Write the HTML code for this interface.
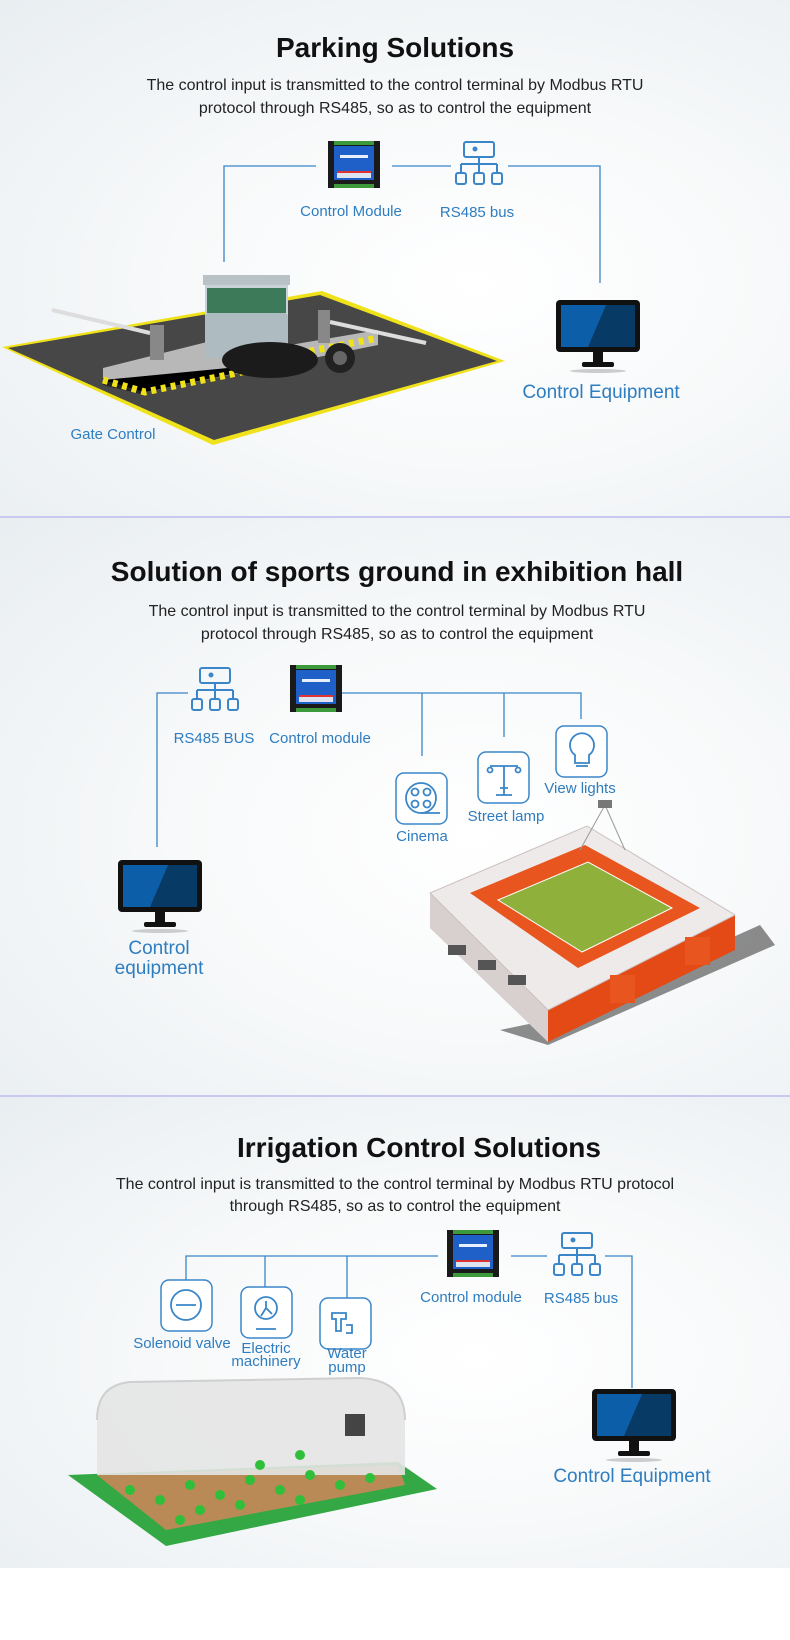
<!DOCTYPE html>
<html><head><meta charset="utf-8"><style>
html,body{margin:0;padding:0;background:#fff;}
body{width:790px;height:1640px;position:relative;overflow:hidden;font-family:"Liberation Sans",sans-serif;}
.sec{position:absolute;left:0;width:790px;background:radial-gradient(ellipse at 60% 55%,#ffffff 0%,#f7f9fa 45%,#e9eef1 100%);}
.div{position:absolute;left:0;width:790px;height:2px;background:#c9c9ef;}
svg{position:absolute;left:0;top:0;}
</style></head><body>
<div class="sec" style="top:0;height:516px"></div>
<div class="div" style="top:516px"></div>
<div class="sec" style="top:518px;height:577px"></div>
<div class="div" style="top:1095px"></div>
<div class="sec" style="top:1097px;height:471px"></div>
<svg width="790" height="1640" viewBox="0 0 790 1640">
<defs>
<g id="mod">
<rect x="0" y="0" width="52" height="47" fill="#1a1a1a"/>
<rect x="6" y="0" width="40" height="4" fill="#3c9a3c"/>
<rect x="6" y="43" width="40" height="4" fill="#3c9a3c"/>
<rect x="6" y="5" width="40" height="34" fill="#1f5fc8"/>
<rect x="12" y="14" width="28" height="3" fill="#e8eefc"/>
<rect x="9" y="32" width="34" height="5" fill="#dde4f0"/>
<rect x="9" y="30" width="34" height="2" fill="#d33"/>
</g>
<g id="bus" fill="none" stroke="#3a86c8" stroke-width="2">
<rect x="9" y="1" width="30" height="15" rx="2"/>
<circle cx="20" cy="8" r="1.5" fill="#3a86c8"/>
<path d="M24 16v7M6 23h36M6 23v9M24 23v9M42 23v9"/>
<rect x="1" y="32" width="10" height="11" rx="2"/>
<rect x="19" y="32" width="10" height="11" rx="2"/>
<rect x="37" y="32" width="10" height="11" rx="2"/>
</g>
<g id="mon">
<rect x="0" y="0" width="84" height="52" rx="4" fill="#111"/>
<rect x="5" y="5" width="74" height="42" fill="#0d5ea8"/>
<polygon points="50,5 79,5 79,47 32,47" fill="#083a66"/>
<rect x="37" y="52" width="10" height="12" fill="#111"/>
<rect x="26" y="62" width="32" height="5" rx="2" fill="#111"/>
<ellipse cx="42" cy="71" rx="28" ry="2" fill="#ccc"/>
</g>
<g id="ibox"><rect x="0" y="0" width="51" height="51" rx="8" fill="#fff" stroke="#3a86c8" stroke-width="1.5"/></g>
</defs>

<!-- SECTION 1 -->
<text x="395" y="57" font-size="28" font-weight="bold" text-anchor="middle" fill="#111">Parking Solutions</text>
<text x="395" y="90" font-size="16" text-anchor="middle" fill="#222">The control input is transmitted to the control terminal by Modbus RTU</text>
<text x="395" y="113" font-size="16" text-anchor="middle" fill="#222">protocol through RS485, so as to control the equipment</text>
<g stroke="#3a86c8" stroke-width="1.3" fill="none">
<path d="M224 262V166H316M392 166H451M508 166H600V283"/>
</g>
<use href="#mod" x="328" y="141"/>
<use href="#bus" x="455" y="141"/>
<g font-size="15" fill="#2e7dc0" text-anchor="middle">
<text x="351" y="216">Control Module</text>
<text x="477" y="217">RS485 bus</text>
<text x="113" y="439">Gate Control</text>
</g>
<use href="#mon" x="556" y="300"/>
<text x="601" y="398" font-size="19" text-anchor="middle" fill="#2e7dc0">Control Equipment</text>
<polygon points="2,347 322,291 505,361 213,445" fill="#f0e21a"/>
<polygon points="8,348 320,295 497,361 214,440" fill="#474747"/>
<polygon points="103,368 215,340 290,345 378,330 378,345 145,392 103,385" fill="#b8b8b8"/>
<polygon points="103,378 145,390 145,395 103,385" fill="#222"/>
<path d="M103 380L145 392L290 362" stroke="#f0e21a" stroke-width="7" stroke-dasharray="5,5"/>
<path d="M290 355L378 338" stroke="#f0e21a" stroke-width="7" stroke-dasharray="5,5"/>
<line x1="52" y1="310" x2="150" y2="333" stroke="#ddd" stroke-width="4"/>
<line x1="330" y1="322" x2="426" y2="343" stroke="#ddd" stroke-width="4"/>
<rect x="150" y="325" width="14" height="35" fill="#888"/>
<rect x="318" y="310" width="12" height="33" fill="#888"/>
<rect x="203" y="275" width="87" height="10" fill="#b9c3c6"/>
<rect x="205" y="285" width="83" height="60" fill="#c8d3d8"/>
<rect x="207" y="288" width="79" height="25" fill="#3c7a5a"/>
<rect x="205" y="313" width="83" height="45" rx="4" fill="#aebbc0"/>
<ellipse cx="270" cy="360" rx="48" ry="18" fill="#1b1b1b"/>
<circle cx="340" cy="358" r="15" fill="#222"/>
<circle cx="340" cy="358" r="7" fill="#666"/>

<!-- SECTION 2 -->
<text x="397" y="581" font-size="28" font-weight="bold" text-anchor="middle" fill="#111">Solution of sports ground in exhibition hall</text>
<text x="397" y="616" font-size="16" text-anchor="middle" fill="#222">The control input is transmitted to the control terminal by Modbus RTU</text>
<text x="397" y="639" font-size="16" text-anchor="middle" fill="#222">protocol through RS485, so as to control the equipment</text>
<g stroke="#3a86c8" stroke-width="1.3" fill="none">
<path d="M157 847V693H188M342 693H581V719M422 693V756M504 693V737"/>
</g>
<use href="#bus" x="191" y="667"/>
<use href="#mod" x="290" y="665"/>
<use href="#ibox" x="396" y="773"/>
<use href="#ibox" x="478" y="752"/>
<use href="#ibox" x="556" y="726"/>
<g fill="none" stroke="#3a86c8" stroke-width="1.8">
<circle cx="421" cy="798" r="15"/><circle cx="415" cy="792" r="3.5"/><circle cx="427" cy="792" r="3.5"/><circle cx="415" cy="804" r="3.5"/><circle cx="427" cy="804" r="3.5"/><path d="M421 813H440"/>
<path d="M504 766V795M490 766H518M496 795H512M500 788H508"/><circle cx="490" cy="770" r="2.5"/><circle cx="518" cy="770" r="2.5"/>
<path d="M575 755a12 12 0 1 1 14 0v8h-14z"/><path d="M576 766h12"/>
</g>
<g font-size="15" fill="#2e7dc0" text-anchor="middle">
<text x="214" y="743">RS485 BUS</text>
<text x="320" y="743">Control module</text>
<text x="422" y="841">Cinema</text>
<text x="506" y="821">Street lamp</text>
<text x="580" y="793">View lights</text>
</g>
<use href="#mon" x="118" y="860"/>
<g font-size="19" fill="#2e7dc0" text-anchor="middle">
<text x="159" y="954">Control</text><text x="159" y="974">equipment</text>
</g>
<!-- stadium -->
<polygon points="548,1045 775,945 760,925 548,1020 500,1030" fill="#666" opacity="0.75"/>
<polygon points="430,893 430,928 548,1042 548,1010" fill="#d8cfcf"/>
<polygon points="548,1010 735,915 735,950 548,1042" fill="#e44a16"/>
<polygon points="430,893 587,826 735,915 548,1010" fill="#efeaea" stroke="#cbbfbf"/>
<polygon points="470,893 585,845 700,908 578,968" fill="#e8551e"/>
<polygon points="498,900 588,862 672,908 582,952" fill="#8fb03a" stroke="#fff" stroke-width="1"/>
<rect x="610" y="975" width="25" height="28" fill="#e8551e"/>
<rect x="685" y="937" width="25" height="28" fill="#e8551e"/>
<rect x="448" y="945" width="18" height="10" fill="#555"/>
<rect x="478" y="960" width="18" height="10" fill="#555"/>
<rect x="508" y="975" width="18" height="10" fill="#555"/>
<line x1="605" y1="805" x2="580" y2="850" stroke="#999"/><line x1="605" y1="805" x2="625" y2="850" stroke="#999"/>
<rect x="598" y="800" width="14" height="8" fill="#777"/>

<!-- SECTION 3 -->
<text x="419" y="1157" font-size="28" font-weight="bold" text-anchor="middle" fill="#111">Irrigation Control Solutions</text>
<text x="395" y="1189" font-size="16" text-anchor="middle" fill="#222">The control input is transmitted to the control terminal by Modbus RTU protocol</text>
<text x="395" y="1211" font-size="16" text-anchor="middle" fill="#222">through RS485, so as to control the equipment</text>
<g stroke="#3a86c8" stroke-width="1.3" fill="none">
<path d="M186 1280V1256H438M265 1256V1287M347 1256V1298M511 1256H547M605 1256H632V1388"/>
</g>
<use href="#mod" x="447" y="1230"/>
<use href="#bus" x="553" y="1232"/>
<use href="#ibox" x="161" y="1280"/>
<use href="#ibox" x="241" y="1287"/>
<use href="#ibox" x="320" y="1298"/>
<g fill="none" stroke="#3a86c8" stroke-width="1.8">
<circle cx="186" cy="1305" r="15"/><path d="M176 1305h20"/>
<circle cx="266" cy="1308" r="11"/><path d="M256 1329h20M266 1308l-5 8M266 1308l6 6M266 1308v-7"/>
<path d="M332 1313h14v6h-5v12h-5v-12h-4zM346 1325h6v8h-6"/>
</g>
<g font-size="15" fill="#2e7dc0" text-anchor="middle">
<text x="182" y="1348">Solenoid valve</text>
<text x="266" y="1353">Electric</text><text x="266" y="1366">machinery</text>
<text x="347" y="1358">Water</text><text x="347" y="1372">pump</text>
<text x="471" y="1302">Control module</text>
<text x="581" y="1303">RS485 bus</text>
</g>
<use href="#mon" x="592" y="1389"/>
<text x="632" y="1482" font-size="19" text-anchor="middle" fill="#2e7dc0">Control Equipment</text>
<polygon points="68,1475 398,1462 437,1489 166,1546" fill="#33a844"/>
<polygon points="97,1475 398,1465 405,1485 166,1530" fill="#b98a55"/>
<path d="M97 1475V1420Q97 1385 130 1382L360 1378Q405 1380 405 1420V1475Z" fill="#e4e4e4" opacity="0.9"/>
<path d="M97 1420Q97 1385 130 1382L360 1378Q405 1380 405 1420" fill="none" stroke="#cfcfcf" stroke-width="2"/>
<rect x="345" y="1414" width="20" height="22" fill="#444"/>
<g fill="#2fbf3a">
<circle cx="130" cy="1490" r="5"/><circle cx="160" cy="1500" r="5"/><circle cx="190" cy="1485" r="5"/><circle cx="220" cy="1495" r="5"/><circle cx="250" cy="1480" r="5"/><circle cx="280" cy="1490" r="5"/><circle cx="310" cy="1475" r="5"/><circle cx="340" cy="1485" r="5"/><circle cx="370" cy="1478" r="5"/><circle cx="200" cy="1510" r="5"/><circle cx="240" cy="1505" r="5"/><circle cx="300" cy="1500" r="5"/><circle cx="260" cy="1465" r="5"/><circle cx="300" cy="1455" r="5"/><circle cx="180" cy="1520" r="5"/>
</g>
</svg>
</body></html>
